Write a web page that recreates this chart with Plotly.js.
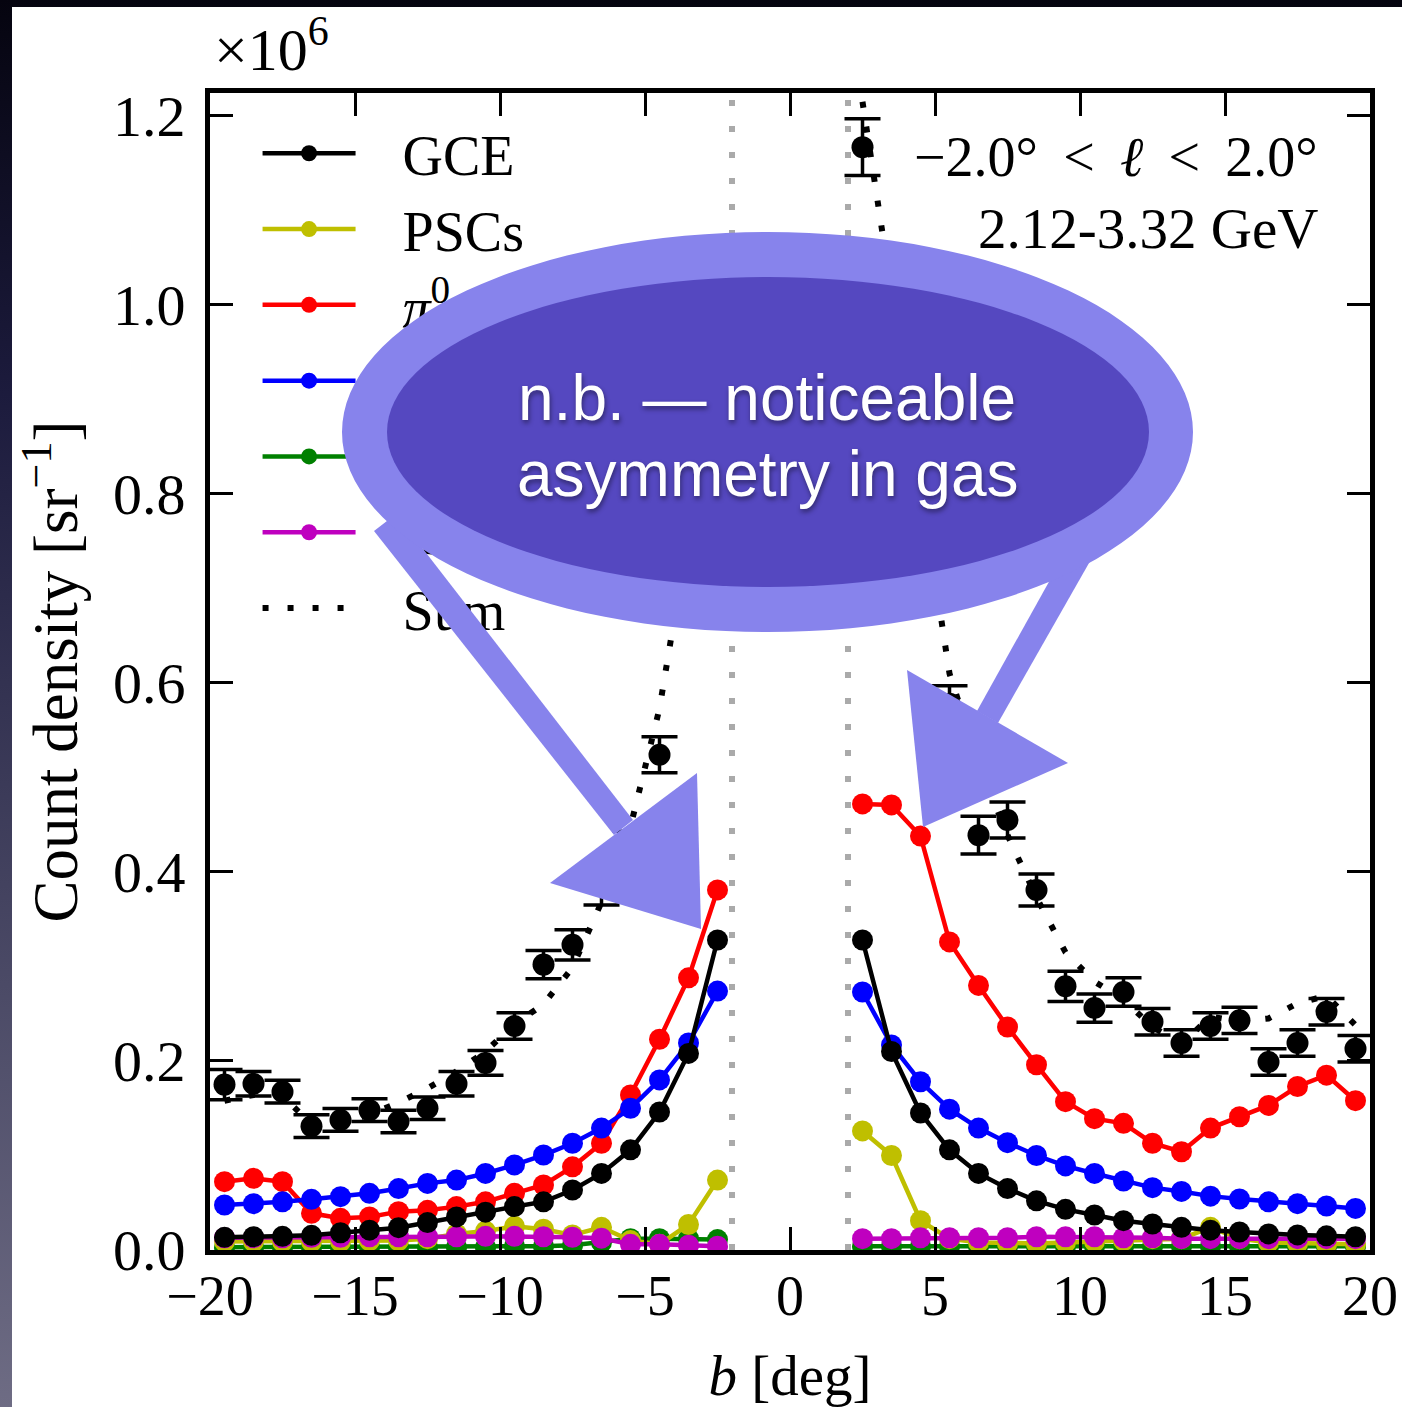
<!DOCTYPE html>
<html><head><meta charset="utf-8">
<script src="https://cdn.plot.ly/plotly-3.0.1.min.js"></script>
<style>
html,body{margin:0;padding:0;width:1402px;height:1407px;overflow:hidden;
background:linear-gradient(to bottom,#05040f 0%,#1c1b3d 28%,#4b4a66 70%,#6e6c84 100%);}
#chart{position:absolute;left:12px;top:7px;width:1390px;height:1400px;background:#fff;}
#overlay{position:absolute;left:0;top:0;width:1402px;height:1407px;pointer-events:none;}
</style></head><body>
<div id="chart"></div><div id="overlay"></div>
<script>
// ---------- data ----------
const binsLeft  = [-19.5,-18.5,-17.5,-16.5,-15.5,-14.5,-13.5,-12.5,-11.5,-10.5,-9.5,-8.5,-7.5,-6.5,-5.5,-4.5,-3.5,-2.5];
const binsRight = [2.5,3.5,4.5,5.5,6.5,7.5,8.5,9.5,10.5,11.5,12.5,13.5,14.5,15.5,16.5,17.5,18.5,19.5];

const gceLeft  = [0.0134,0.014,0.0145,0.0155,0.0183,0.021,0.0236,0.029,0.035,0.040,0.0459,0.051,0.0635,0.081,0.106,0.146,0.208,0.328];
const gceRight = [0.328,0.210,0.145,0.106,0.081,0.065,0.052,0.043,0.037,0.031,0.0275,0.024,0.021,0.019,0.017,0.016,0.015,0.014];

const pscLeft  = [0.009,0.009,0.009,0.009,0.009,0.010,0.010,0.012,0.017,0.020,0.025,0.022,0.016,0.024,0.010,0.006,0.027,0.074];
const pscRight = [0.126,0.100,0.031,0.012,0.008,0.007,0.007,0.008,0.009,0.010,0.012,0.012,0.024,0.012,0.008,0.007,0.006,0.006];

const pi0Left  = [0.0723,0.0758,0.0723,0.0388,0.0335,0.035,0.0406,0.042,0.0459,0.051,0.060,0.0688,0.088,0.113,0.164,0.223,0.288,0.381];
const pi0Right = [0.472,0.471,0.438,0.326,0.280,0.236,0.196,0.157,0.139,0.134,0.113,0.104,0.129,0.141,0.153,0.173,0.185,0.158];

const icsLeft  = [0.0476,0.049,0.051,0.0536,0.0564,0.060,0.065,0.0705,0.074,0.081,0.090,0.1005,0.113,0.129,0.150,0.180,0.219,0.274];
const icsRight = [0.273,0.217,0.178,0.149,0.129,0.1136,0.100,0.089,0.081,0.073,0.066,0.062,0.057,0.054,0.051,0.049,0.0466,0.044];

const fbsLeft  = [0.003,0.003,0.003,0.003,0.003,0.003,0.003,0.003,0.003,0.003,0.004,0.004,0.005,0.008,0.012,0.012,0.012,0.011];
const fbsRight = [0.004,0.004,0.004,0.004,0.004,0.004,0.004,0.004,0.004,0.004,0.004,0.004,0.004,0.004,0.004,0.004,0.004,0.004];

const isoLeft  = [0.013,0.013,0.013,0.0135,0.0135,0.014,0.014,0.014,0.014,0.0145,0.0145,0.014,0.0135,0.0125,0.006,0.006,0.005,0.004];
const isoRight = [0.012,0.012,0.013,0.013,0.013,0.013,0.014,0.014,0.014,0.013,0.013,0.012,0.012,0.012,0.012,0.012,0.012,0.012];

const sumLeft  = [0.158,0.164,0.163,0.133,0.134,0.143,0.156,0.171,0.189,0.210,0.239,0.260,0.299,0.368,0.448,0.573,0.759,1.072];
const sumRight = [1.215,1.014,0.809,0.610,0.515,0.439,0.373,0.315,0.284,0.265,0.236,0.218,0.247,0.242,0.245,0.261,0.269,0.238];

const dataLeft  = [0.175,0.176,0.1675,0.131,0.1376,0.148,0.136,0.150,0.176,0.198,0.237,0.302,0.323,0.385,0.425,0.524,0.745,1.000];
const dataRight = [1.167,0.980,0.780,0.578,0.439,0.455,0.381,0.279,0.256,0.273,0.2416,0.219,0.237,0.243,0.199,0.219,0.252,0.213];
const errLeft   = [0.016,0.013,0.012,0.012,0.012,0.012,0.012,0.012,0.013,0.013,0.014,0.015,0.016,0.020,0.018,0.019,0.022,0.026];
const errRight  = [0.030,0.026,0.023,0.019,0.020,0.019,0.017,0.016,0.015,0.015,0.014,0.014,0.014,0.014,0.014,0.014,0.014,0.014];

const seriesNames = ['GCE','PSCs','<i>π</i><sup>0</sup>','ICS','FBs','Isotropic','Sum'];
const maskEdges = [-2, 2];
const xTicks = [-20,-15,-10,-5,0,5,10,15,20];
const yTicks = [0,0.2,0.4,0.6,0.8,1.0,1.2];
const xRange = [-20, 20];
const yRange = [0, 1.2243];

// ---------- traces ----------
const serif = 'Liberation Serif, DejaVu Serif, serif';
const gap = '\u2002\u2005';
const join = (a, b) => a.concat([null], b);
const xAll = join(binsLeft, binsRight);

const comps = [
  {name:seriesNames[4], color:'#008000', L:fbsLeft, R:fbsRight, rank:5},
  {name:seriesNames[1], color:'#bfbf00', L:pscLeft, R:pscRight, rank:2},
  {name:seriesNames[2], color:'#ff0000', L:pi0Left, R:pi0Right, rank:3},
  {name:seriesNames[3], color:'#0000ff', L:icsLeft, R:icsRight, rank:4},
  {name:seriesNames[5], color:'#bf00bf', L:isoLeft, R:isoRight, rank:6},
  {name:seriesNames[0], color:'#000000', L:gceLeft, R:gceRight, rank:1}
];
const traces = comps.map(c => ({
  type:'scatter', mode:'lines+markers', name:gap + c.name, legendrank:c.rank,
  x:xAll, y:join(c.L, c.R), connectgaps:false,
  line:{color:c.color, width:4.5},
  marker:{color:c.color, size:21, line:{width:0}}
}));
traces.push({
  type:'scatter', mode:'lines', name:gap + seriesNames[6], legendrank:7,
  x:xAll, y:join(sumLeft, sumRight), connectgaps:false,
  line:{color:'#000', width:6, dash:'6px,19px'}
});
traces.push({
  type:'scatter', mode:'markers', name:'data', showlegend:false,
  x:xAll, y:join(dataLeft, dataRight),
  marker:{color:'#000', size:22},
  error_y:{type:'data', array:join(errLeft, errRight), visible:true, color:'#000', thickness:3.5, width:18}
});

const layout = {
  width:1390, height:1400,
  margin:{l:198, r:32, t:86, b:157},
  paper_bgcolor:'#ffffff', plot_bgcolor:'#ffffff',
  font:{family:serif, color:'#000', size:56},
  showlegend:true,
  legend:{x:0.041, y:0.985, xanchor:'left', yanchor:'top', bgcolor:'rgba(0,0,0,0)',
          font:{family:serif, size:56, color:'#000'}, itemwidth:93, tracegroupgap:0},
  xaxis:{range:xRange, tickmode:'array', tickvals:xTicks, ticks:'inside', ticklen:23, tickwidth:3,
         tickcolor:'#000', showline:true, linewidth:5, linecolor:'#000', mirror:'ticks',
         showgrid:false, zeroline:false, tickfont:{family:serif, size:56}, ticklabelstandoff:-7,
         title:{text:'<i>b</i> [deg]', font:{family:serif, size:57}, standoff:30}},
  yaxis:{range:yRange, tickmode:'array', tickvals:yTicks, tickformat:'.1f', ticks:'inside', ticklen:23, tickwidth:3,
         tickcolor:'#000', showline:true, linewidth:5, linecolor:'#000', mirror:'ticks',
         showgrid:false, zeroline:false, tickfont:{family:serif, size:58}, ticklabelstandoff:8,
         title:{text:'Count density [sr<sup>−1</sup>]', font:{family:serif, size:63}, standoff:16}},
  shapes: maskEdges.map(v => ({type:'line', xref:'x', yref:'paper', x0:v, x1:v, y0:0, y1:1,
          layer:'below', line:{color:'#aaaaaa', width:6, dash:'6px,20px'}})),
  annotations:[
    {xref:'paper', yref:'paper', x:0, y:1, xanchor:'left', yanchor:'bottom', xshift:2, yshift:8,
     text:'×10<sup>6</sup>', showarrow:false, font:{family:serif, size:60, color:'#000'}},
    {xref:'paper', yref:'paper', x:0.957, y:0.9447, xanchor:'right', yanchor:'middle',
     text:'−2.0° \u2009&lt; \u2009<i>ℓ</i> \u2009&lt; \u20092.0°', showarrow:false, font:{family:serif, size:56, color:'#000'}},
    {xref:'paper', yref:'paper', x:0.957, y:0.8833, xanchor:'right', yanchor:'middle',
     text:'2.12-3.32 GeV', showarrow:false, font:{family:serif, size:57, color:'#000'}}
  ]
};
Plotly.newPlot('chart', traces, layout, {staticPlot:true, displayModeBar:false});

// ---------- slide callout overlay (page pixel coordinates) ----------
const calloutFill = '#8783ec';
const calloutInner = '#5548c0';
const calloutFont = {family:'Liberation Sans, Helvetica, Arial, sans-serif', size:64, color:'#ffffff',
                     shadow:'1px 3px 5px rgba(0,0,0,0.45)'};
const overlayLayout = {
  width:1402, height:1407, margin:{l:0,r:0,t:0,b:0},
  paper_bgcolor:'rgba(0,0,0,0)', plot_bgcolor:'rgba(0,0,0,0)', showlegend:false,
  xaxis:{range:[0,1402], visible:false, fixedrange:true},
  yaxis:{range:[1407,0], visible:false, fixedrange:true},
  shapes:[
    {type:'path', xref:'x', yref:'y', path:'M 396,514 L 633,820 L 614,835 L 374,531 Z', fillcolor:calloutFill, line:{width:0}},
    {type:'path', xref:'x', yref:'y', path:'M 550,883 L 697,773 L 701,929 Z', fillcolor:calloutFill, line:{width:0}},
    {type:'path', xref:'x', yref:'y', path:'M 1097,549 L 998,723 L 977,711 L 1075,535 Z', fillcolor:calloutFill, line:{width:0}},
    {type:'path', xref:'x', yref:'y', path:'M 907,670 L 1068,763 L 923,827 Z', fillcolor:calloutFill, line:{width:0}},
    {type:'circle', xref:'x', yref:'y', x0:342, x1:1193, y0:232, y1:632, fillcolor:calloutFill, line:{width:0}},
    {type:'circle', xref:'x', yref:'y', x0:387, x1:1149, y0:277, y1:587, fillcolor:calloutInner, line:{width:0}}
  ],
  annotations:[
    {xref:'x', yref:'y', x:767, y:398, xanchor:'center', yanchor:'middle', showarrow:false,
     text:'n.b. — noticeable', font:calloutFont},
    {xref:'x', yref:'y', x:767, y:474, xanchor:'center', yanchor:'middle', showarrow:false,
     text:'asymmetry in gas', font:calloutFont}
  ]
};
Plotly.newPlot('overlay', [], overlayLayout, {staticPlot:true, displayModeBar:false});
</script>
</body></html>
